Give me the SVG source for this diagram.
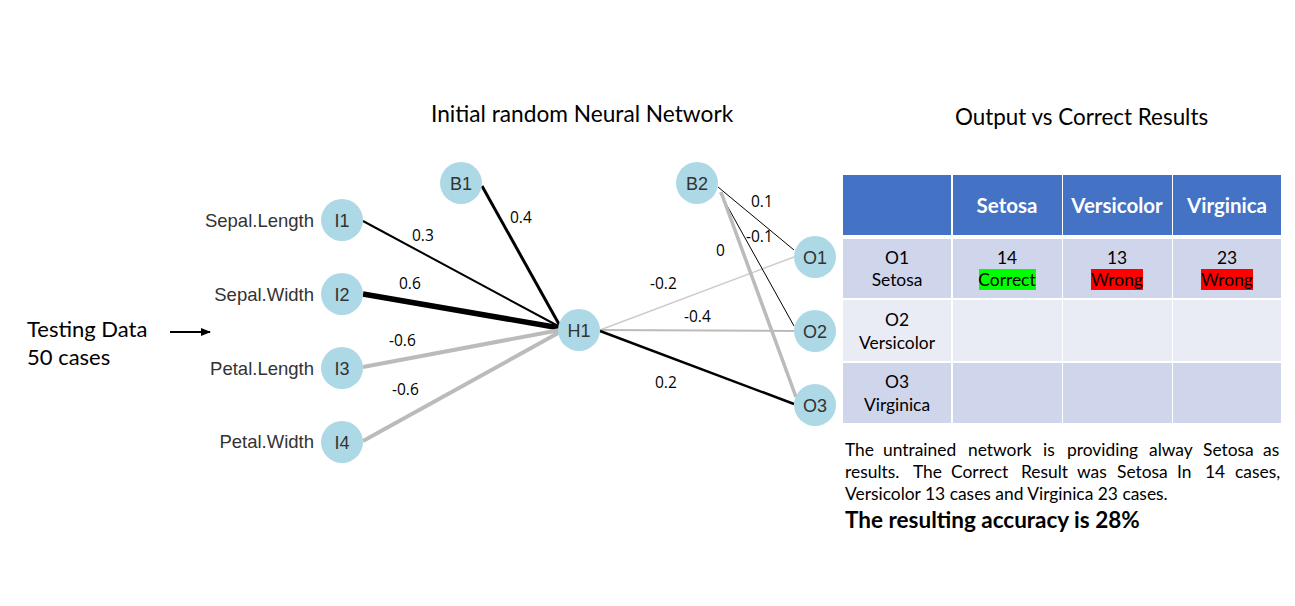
<svg xmlns="http://www.w3.org/2000/svg" width="1295" height="606" viewBox="0 0 1295 606">
<style>
.node circle{fill:#ADD8E6;}
.node text{font-family:"Liberation Sans",Arial,sans-serif;font-size:18px;fill:#333;text-anchor:middle;}
.inlbl{font-family:"Liberation Sans",Arial,sans-serif;font-size:18.5px;fill:#333;text-anchor:end;}
.w{font-family:"Open Sans","Liberation Sans",sans-serif;font-size:15.5px;fill:#000;}
.cal{font-family:Lato,"Liberation Sans",sans-serif;fill:#000;}
.hdr{font-family:Lato,"Liberation Sans",sans-serif;font-size:20.5px;font-weight:bold;fill:#fff;text-anchor:middle;}
.cell{font-family:Lato,"Liberation Sans",sans-serif;font-size:17.4px;fill:#000;text-anchor:middle;}
</style>
<defs>
<marker id="ah" markerWidth="10" markerHeight="8" refX="9" refY="4" orient="auto" markerUnits="userSpaceOnUse">
<path d="M0,0 L10,4 L0,8 Z" fill="#000"/>
</marker>
</defs>
<rect width="1295" height="606" fill="#fff"/>

<text class="cal" x="431" y="122" font-size="22.7">Initial random Neural Network</text>
<text class="cal" x="955" y="125" font-size="22.4">Output vs Correct Results</text>
<text class="cal" x="27" y="337" font-size="22">Testing Data</text>
<text class="cal" x="27" y="365" font-size="22">50 cases</text>

<g id="connectors">
<line x1="170" y1="332" x2="210" y2="332" stroke="#000" stroke-width="2" marker-end="url(#ah)"/>
<line x1="363" y1="221" x2="560" y2="327" stroke="#000" stroke-width="2"/>
<line x1="363" y1="294" x2="560" y2="328" stroke="#000" stroke-width="5.5"/>
<line x1="363" y1="367" x2="560" y2="330" stroke="#bbb" stroke-width="4"/>
<line x1="363" y1="441" x2="560" y2="332" stroke="#bbb" stroke-width="4"/>
<line x1="482" y1="186" x2="560" y2="326" stroke="#000" stroke-width="3"/>
<line x1="600" y1="330" x2="794" y2="257" stroke="#ccc" stroke-width="1.5"/>
<line x1="600" y1="330" x2="794" y2="331" stroke="#bbb" stroke-width="2"/>
<line x1="600" y1="331" x2="794" y2="404" stroke="#000" stroke-width="2.5"/>
<line x1="718" y1="187" x2="794" y2="250" stroke="#000" stroke-width="1"/>
<line x1="720" y1="193" x2="794" y2="326" stroke="#000" stroke-width="1"/>
<line x1="721" y1="192" x2="796" y2="397" stroke="#bbb" stroke-width="3.5"/>
<text class="w" x="412" y="241">0.3</text>
<text class="w" x="510" y="223">0.4</text>
<text class="w" x="399" y="289">0.6</text>
<text class="w" x="389" y="346">-0.6</text>
<text class="w" x="392" y="395">-0.6</text>
<text class="w" x="751" y="207">0.1</text>
<text class="w" x="746" y="242">-0.1</text>
<text class="w" x="716" y="256">0</text>
<text class="w" x="650" y="289">-0.2</text>
<text class="w" x="684" y="322">-0.4</text>
<text class="w" x="655" y="388">0.2</text>
</g>

<text class="inlbl" x="314" y="227">Sepal.Length</text>
<text class="inlbl" x="314" y="301">Sepal.Width</text>
<text class="inlbl" x="314" y="375">Petal.Length</text>
<text class="inlbl" x="314" y="448">Petal.Width</text>

<g id="I1" class="node"><circle cx="342" cy="220" r="21"/><text x="342" y="227">I1</text></g>
<g id="I2" class="node"><circle cx="342" cy="294" r="21"/><text x="342" y="301">I2</text></g>
<g id="I3" class="node"><circle cx="342" cy="368" r="21"/><text x="342" y="375">I3</text></g>
<g id="I4" class="node"><circle cx="342" cy="442" r="21"/><text x="342" y="449">I4</text></g>
<g id="B1" class="node"><circle cx="461" cy="183" r="21"/><text x="461" y="190">B1</text></g>
<g id="H1" class="node"><circle cx="579" cy="330" r="21"/><text x="579" y="337">H1</text></g>
<g id="B2" class="node"><circle cx="697" cy="183" r="21"/><text x="697" y="190">B2</text></g>
<g id="O1" class="node"><circle cx="815" cy="257" r="21"/><text x="815" y="264">O1</text></g>
<g id="O2" class="node"><circle cx="815" cy="331" r="21"/><text x="815" y="338">O2</text></g>
<g id="O3" class="node"><circle cx="815" cy="405" r="21"/><text x="815" y="412">O3</text></g>

<g id="table">
<rect x="843" y="175" width="108" height="60" fill="#4472C4"/>
<rect x="953" y="175" width="109" height="60" fill="#4472C4"/>
<rect x="1063" y="175" width="109" height="60" fill="#4472C4"/>
<rect x="1173" y="175" width="108" height="60" fill="#4472C4"/>
<rect x="843" y="239" width="108" height="59" fill="#CFD5EA"/>
<rect x="953" y="239" width="109" height="59" fill="#CFD5EA"/>
<rect x="1063" y="239" width="109" height="59" fill="#CFD5EA"/>
<rect x="1173" y="239" width="108" height="59" fill="#CFD5EA"/>
<rect x="843" y="300" width="108" height="61" fill="#E9EBF5"/>
<rect x="953" y="300" width="109" height="61" fill="#E9EBF5"/>
<rect x="1063" y="300" width="109" height="61" fill="#E9EBF5"/>
<rect x="1173" y="300" width="108" height="61" fill="#E9EBF5"/>
<rect x="843" y="363" width="108" height="60" fill="#CFD5EA"/>
<rect x="953" y="363" width="109" height="60" fill="#CFD5EA"/>
<rect x="1063" y="363" width="109" height="60" fill="#CFD5EA"/>
<rect x="1173" y="363" width="108" height="60" fill="#CFD5EA"/>
<text class="hdr" x="1007" y="213">Setosa</text>
<text class="hdr" x="1117" y="213">Versicolor</text>
<text class="hdr" x="1227" y="213">Virginica</text>
<text class="cell" x="897" y="264">O1</text>
<text class="cell" x="897" y="286">Setosa</text>
<text class="cell" x="897" y="326">O2</text>
<text class="cell" x="897" y="349">Versicolor</text>
<text class="cell" x="897" y="388">O3</text>
<text class="cell" x="897" y="411">Virginica</text>
<text class="cell" x="1007" y="264">14</text>
<text class="cell" x="1117" y="264">13</text>
<text class="cell" x="1227" y="264">23</text>
<rect x="979" y="269" width="57" height="21" fill="#00FF00"/>
<rect x="1091" y="269" width="52" height="21" fill="#FF0000"/>
<rect x="1201" y="269" width="52" height="21" fill="#FF0000"/>
<text class="cell" x="1007" y="286">Correct</text>
<text class="cell" x="1117" y="286">Wrong</text>
<text class="cell" x="1227" y="286">Wrong</text>
</g>

<text class="cal" y="456" font-size="17.4"><tspan x="845">The</tspan><tspan x="883">untrained</tspan><tspan x="968">network</tspan><tspan x="1043">is</tspan><tspan x="1067">providing</tspan><tspan x="1149">alway</tspan><tspan x="1203">Setosa</tspan><tspan x="1263">as</tspan></text>
<text class="cal" y="478" font-size="17.4"><tspan x="845">results.</tspan><tspan x="913">The</tspan><tspan x="951">Correct</tspan><tspan x="1021">Result</tspan><tspan x="1077">was</tspan><tspan x="1117">Setosa</tspan><tspan x="1177">In</tspan><tspan x="1205">14</tspan><tspan x="1235">cases,</tspan></text>
<text class="cal" x="845" y="500" font-size="17.4">Versicolor 13 cases and Virginica 23 cases.</text>
<text class="cal" x="845" y="528" font-size="22.5" font-weight="bold">The resulting accuracy is 28%</text>
</svg>
